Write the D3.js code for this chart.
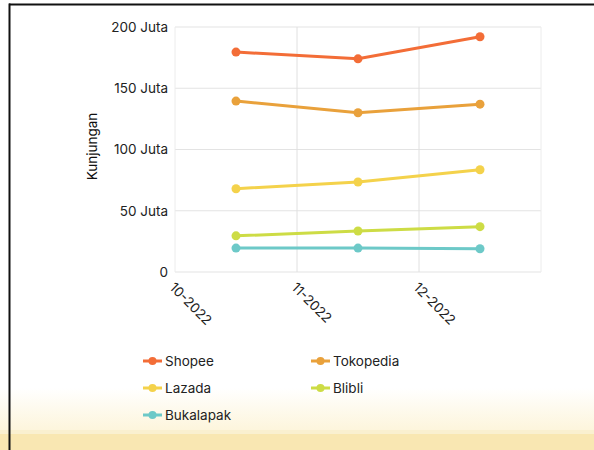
<!DOCTYPE html>
<html>
<head>
<meta charset="utf-8">
<script src="https://cdn.jsdelivr.net/npm/d3@7"></script>
<style>
  html, body { margin: 0; padding: 0; background: #fff; }
  svg { display: block; font-family: Inter, "Liberation Sans", Arial, sans-serif; }
</style>
</head>
<body>
<svg id="chart" width="594" height="450"></svg>
<script>
const categories = ["10-2022", "11-2022", "12-2022"];
const seriesNames = ["Shopee", "Tokopedia", "Lazada", "Blibli", "Bukalapak"];
const shopee = [179.5, 174, 192];
const tokopedia = [139.5, 130, 137];
const lazada = [68, 73.5, 83.5];
const blibli = [29.5, 33.5, 37];
const bukalapak = [19.5, 19.5, 19];
const yTicks = [0, 50, 100, 150, 200];
const colors = ["#f36d37", "#e9a13b", "#f4d24b", "#cddc45", "#6dc9c8"];
const seriesValues = [shopee, tokopedia, lazada, blibli, bukalapak];
const FS = 13.5;

const svg = d3.select("#chart");

// background fade at bottom (screenshot look)
const defs = svg.append("defs");
const grad = defs.append("linearGradient").attr("id", "fade").attr("x1", 0).attr("x2", 0).attr("y1", 0).attr("y2", 1);
grad.append("stop").attr("offset", "0%").attr("stop-color", "#ffffff");
grad.append("stop").attr("offset", "100%").attr("stop-color", "#fdf5dc");
svg.append("rect").attr("x", 0).attr("y", 388).attr("width", 594).attr("height", 42).attr("fill", "url(#fade)");
svg.append("rect").attr("x", 0).attr("y", 430).attr("width", 594).attr("height", 4).attr("fill", "#faf0d0");
svg.append("rect").attr("x", 0).attr("y", 434).attr("width", 594).attr("height", 16).attr("fill", "#f9e7b2");

// frame lines
svg.append("rect").attr("x", 9).attr("y", 3.5).attr("width", 585).attr("height", 2).attr("fill", "#111");
svg.append("rect").attr("x", 8.5).attr("y", 3.5).attr("width", 2).attr("height", 447).attr("fill", "#111");

const pLeft = 175, pRight = 541, pTop = 27, pBottom = 272;
const x = d3.scaleBand().domain(categories).range([pLeft, pRight]);
const y = d3.scaleLinear().domain([0, 200]).range([pBottom, pTop]);

// horizontal grid
svg.append("g").selectAll("line").data(yTicks).join("line")
  .attr("x1", pLeft).attr("x2", pRight)
  .attr("y1", d => y(d)).attr("y2", d => y(d))
  .attr("stroke", "#e3e3e3").attr("stroke-width", 1);
// vertical grid (band edges)
const vEdges = categories.map(c => x(c)).concat([pRight]);
svg.append("g").selectAll("line").data(vEdges).join("line")
  .attr("x1", d => d).attr("x2", d => d)
  .attr("y1", pTop).attr("y2", pBottom)
  .attr("stroke", (d, i) => (i === 0 || i === vEdges.length - 1) ? "#ececec" : "#e0e0e0")
  .attr("stroke-width", 1);

// y axis labels
const yAxis = d3.axisLeft(y).tickValues(yTicks).tickSize(0).tickPadding(0)
  .tickFormat(d => d === 0 ? "0" : d + " Juta");
const gy = svg.append("g").attr("transform", `translate(${pLeft - 7},0)`).call(yAxis);
gy.select(".domain").remove();
gy.selectAll("text").attr("font-size", FS).attr("fill", "#222").attr("font-family", "Inter, 'Liberation Sans', Arial, sans-serif");

// x axis labels, rotated
const gx = svg.append("g");
gx.selectAll("text").data(categories).join("text")
  .attr("transform", d => `translate(${x(d) - 3},${pBottom + 13}) rotate(45)`)
  .attr("text-anchor", "start")
  .attr("dy", "0.35em")
  .attr("font-size", FS).attr("fill", "#222")
  .text(d => d);

// y axis title
svg.append("text")
  .attr("transform", `translate(97,${(pTop + pBottom) / 2 - 3}) rotate(-90)`)
  .attr("text-anchor", "middle")
  .attr("font-size", FS).attr("fill", "#111")
  .text("Kunjungan");

// lines
const cx = c => x(c) + x.bandwidth() / 2;
const line = d3.line().x((d, i) => cx(categories[i])).y(d => y(d));
seriesValues.forEach((vals, si) => {
  const g = svg.append("g");
  g.append("path").datum(vals).attr("d", line)
    .attr("fill", "none").attr("stroke", colors[si]).attr("stroke-width", 3);
  g.selectAll("circle").data(vals).join("circle")
    .attr("cx", (d, i) => cx(categories[i])).attr("cy", d => y(d))
    .attr("r", 4.5).attr("fill", colors[si]);
});

// legend
const legendPos = [[143, 361], [311, 361], [143, 388], [311, 388], [143, 415]];
seriesNames.forEach((name, i) => {
  const [lx, ly] = legendPos[i];
  const g = svg.append("g").attr("transform", `translate(${lx},${ly})`);
  g.append("line").attr("x1", 0).attr("x2", 19).attr("y1", 0).attr("y2", 0)
    .attr("stroke", colors[i]).attr("stroke-width", 3);
  g.append("circle").attr("cx", 9.5).attr("cy", 0).attr("r", 4).attr("fill", colors[i]);
  g.append("text").attr("x", 22).attr("y", 0).attr("dy", "0.35em")
    .attr("font-size", FS).attr("fill", "#222").text(name);
});
</script>
</body>
</html>
